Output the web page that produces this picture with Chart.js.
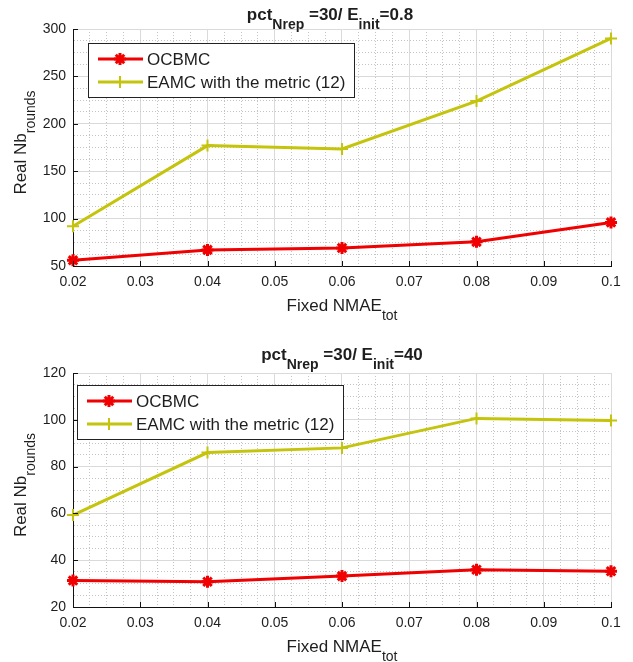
<!DOCTYPE html>
<html>
<head>
<meta charset="utf-8">
<script src="https://cdn.jsdelivr.net/npm/chart.js@4.4.1/dist/chart.umd.min.js"></script>
<style>
  html, body { margin: 0; padding: 0; background: #fff; }
  #quadro { position: relative; width: 633px; height: 662px; }
  .painel { position: absolute; left: 0; width: 633px; height: 331px; }
  .painel canvas { display: block; }
</style>
</head>
<body>
<div id="quadro">
  <div class="painel" style="top:0"><canvas id="grafico1" width="633" height="331"></canvas></div>
  <div class="painel" style="top:331px"><canvas id="grafico2" width="633" height="331"></canvas></div>
</div>
<script>
// valores
const nmaeFixo = [0.02, 0.04, 0.06, 0.08, 0.1]
const ocbmcE08 = [56, 67, 69, 75.5, 96]
const eamcE08 = [92, 177, 173.5, 224, 290]
const ocbmcE40 = [31.3, 30.8, 33.2, 35.9, 35.3]
const eamcE40 = [59.3, 86, 88, 100.6, 99.7]
const nomesSeries = ['OCBMC', 'EAMC with the metric (12)']

const fonteBase = '"Liberation Sans", Arial, sans-serif'
const corTexto = '#1e1e1e'

Chart.defaults.font.family = fonteBase
Chart.defaults.color = corTexto

/*
* Texto com subscritos (titulo e rotulos dos eixos)
*/
const textoComIndice = (ctx, partes, cx, cy, tamanho, negrito, rotacao, desce) => {
    const peso = negrito ? 'bold ' : ''
    const tamSub = Math.round(tamanho * 0.8)
    let largura = 0
    partes.forEach(p => {
        ctx.font = peso + (p.sub ? tamSub : tamanho) + 'px ' + fonteBase
        p.w = ctx.measureText(p.t).width
        largura += p.w
    })
    ctx.save()
    ctx.translate(cx, cy)
    if (rotacao) ctx.rotate(rotacao)
    ctx.fillStyle = corTexto
    ctx.textBaseline = 'middle'
    ctx.textAlign = 'left'
    let x = -largura / 2
    partes.forEach(p => {
        ctx.font = peso + (p.sub ? tamSub : tamanho) + 'px ' + fonteBase
        ctx.fillText(p.t, x, p.sub ? desce : 0)
        x += p.w
    })
    ctx.restore()
}

const rotulos = {
    id: 'rotulos',
    afterDraw(chart, args, opts) {
        const { ctx, chartArea } = chart
        const meio = (chartArea.left + chartArea.right) / 2
        textoComIndice(ctx, opts.titulo, meio + opts.tituloDx, opts.tituloY, 17, true, 0, 10)
        textoComIndice(ctx, opts.eixoX, meio, chartArea.bottom + 40, 17, false, 0, 10)
        textoComIndice(ctx, opts.eixoY, 21, (chartArea.top + chartArea.bottom) / 2 - 5, 17, false, -Math.PI / 2, 10)
    }
}

/*
* Marcas dos ticks para dentro, como no MATLAB
*/
const marcasInternas = {
    id: 'marcasInternas',
    afterDraw(chart) {
        const { ctx, chartArea, scales } = chart
        ctx.save()
        ctx.strokeStyle = '#111'
        ctx.lineWidth = 1
        ctx.beginPath()
        scales.x.ticks.forEach(t => {
            if (t.label === '') return
            const px = Math.round(scales.x.getPixelForValue(t.value)) + 0.5
            ctx.moveTo(px, chartArea.bottom)
            ctx.lineTo(px, chartArea.bottom - 5)
        })
        scales.y.ticks.forEach(t => {
            if (t.label === '') return
            const py = Math.round(scales.y.getPixelForValue(t.value)) + 0.5
            ctx.moveTo(chartArea.left, py)
            ctx.lineTo(chartArea.left + 5, py)
        })
        ctx.stroke()
        ctx.restore()
    }
}

/*
* Legenda dentro da area do grafico, com linha + marcador
*/
const legendaInterna = {
    id: 'legendaInterna',
    afterDraw(chart, args, opts) {
        const { ctx, chartArea } = chart
        const x0 = Math.round(chartArea.left + opts.dx)
        const y0 = Math.round(chartArea.top + opts.dy)
        ctx.save()
        ctx.font = '17px ' + fonteBase
        const larguras = chart.data.datasets.map(d => ctx.measureText(d.label).width)
        const w = Math.round(60 + Math.max(...larguras) + 8)
        const h = 54
        ctx.fillStyle = '#fff'
        ctx.fillRect(x0, y0, w, h)
        ctx.strokeStyle = '#222'
        ctx.lineWidth = 1
        ctx.strokeRect(x0 + 0.5, y0 + 0.5, w, h)
        chart.data.datasets.forEach((d, i) => {
            const yl = y0 + 16 + i * 23
            ctx.strokeStyle = d.borderColor
            ctx.lineWidth = d.borderWidth
            ctx.beginPath()
            ctx.moveTo(x0 + 10, yl)
            ctx.lineTo(x0 + 55, yl)
            ctx.stroke()
            ctx.fillStyle = d.pointBackgroundColor
            ctx.strokeStyle = d.pointBorderColor
            ctx.lineWidth = d.pointBorderWidth
            Chart.helpers.drawPoint(ctx, { pointStyle: d.pointStyle, radius: d.pointRadius, borderWidth: d.pointBorderWidth, rotation: 0 }, x0 + 32, yl)
            ctx.fillStyle = corTexto
            ctx.textBaseline = 'middle'
            ctx.textAlign = 'left'
            ctx.fillText(d.label, x0 + 59, yl + 1)
        })
        ctx.restore()
    }
}

const corVermelha = '#f00000'
const corAmarela = '#c4c40c'
const corGrade = '#dadada'
const corGradeMenor = '#c4c4c4'

const montaPontos = (valores) => nmaeFixo.map((x, i) => ({ x: x, y: valores[i] }))

const criarGrafico = (idCanvas, ocbmc, eamc, eixo, ajuste) => {
    const ctx = document.getElementById(idCanvas).getContext('2d')
    return new Chart(ctx, {
        type: 'line',
        data: {
            datasets: [{
                label: nomesSeries[0],
                data: montaPontos(ocbmc),
                borderColor: corVermelha,
                borderWidth: 3,
                pointStyle: 'star',
                pointRadius: 6,
                pointBorderWidth: 3,
                pointBackgroundColor: corVermelha,
                pointBorderColor: corVermelha,
                tension: 0,
                clip: false
            }, {
                label: nomesSeries[1],
                data: montaPontos(eamc),
                borderColor: corAmarela,
                borderWidth: 3,
                pointStyle: 'cross',
                pointRadius: 6,
                pointBorderWidth: 2,
                pointBackgroundColor: corAmarela,
                pointBorderColor: corAmarela,
                tension: 0,
                clip: false
            }]
        },
        options: {
            responsive: false,
            animation: false,
            layout: { padding: { top: ajuste.topo, right: 22, left: 0, bottom: 0 } },
            scales: {
                x: {
                    type: 'linear',
                    min: 0.02,
                    max: 0.1,
                    afterFit: s => { s.height = ajuste.alturaX },
                    ticks: {
                        stepSize: 0.0025,
                        autoSkip: false,
                        maxRotation: 0,
                        padding: 8,
                        font: { size: 14 },
                        color: corTexto,
                        callback: v => (Math.abs(v * 100 - Math.round(v * 100)) < 1e-6 ? String(+v.toFixed(2)) : '')
                    },
                    grid: {
                        drawTicks: false,
                        lineWidth: 1,
                        color: c => (c.tick && c.tick.label !== '' ? corGrade : corGradeMenor)
                    },
                    border: {
                        color: '#111',
                        width: 1,
                        dash: c => (c.type === 'tick' && c.tick.label === '' ? [1, 2] : [])
                    }
                },
                y: {
                    type: 'linear',
                    min: eixo.min,
                    max: eixo.max,
                    afterFit: s => { s.width = 73 },
                    ticks: {
                        stepSize: eixo.passo,
                        autoSkip: false,
                        padding: 7,
                        font: { size: 14 },
                        color: corTexto,
                        callback: v => (Math.abs(v / eixo.principal - Math.round(v / eixo.principal)) < 1e-6 ? String(Math.round(v)) : '')
                    },
                    grid: {
                        drawTicks: false,
                        lineWidth: 1,
                        color: c => (c.tick && c.tick.label !== '' ? corGrade : corGradeMenor)
                    },
                    border: {
                        color: '#111',
                        width: 1,
                        dash: c => (c.type === 'tick' && c.tick.label === '' ? [1, 2] : [])
                    }
                }
            },
            plugins: {
                legend: { display: false },
                title: { display: false },
                tooltip: { enabled: false },
                legendaInterna: ajuste.legenda,
                rotulos: {
                    titulo: ajuste.titulo,
                    tituloDx: ajuste.tituloDx,
                    tituloY: ajuste.tituloY,
                    eixoX: [{ t: 'Fixed NMAE' }, { t: 'tot', sub: true }],
                    eixoY: [{ t: 'Real Nb' }, { t: 'rounds', sub: true }]
                }
            }
        },
        plugins: [legendaInterna, rotulos, marcasInternas]
    })
}

criarGrafico('grafico1', ocbmcE08, eamcE08, { min: 50, max: 300, passo: 12.5, principal: 50 }, {
    topo: 29,
    alturaX: 65,
    legenda: { dx: 15, dy: 14 },
    titulo: [{ t: 'pct' }, { t: 'Nrep', sub: true }, { t: ' =30/ E' }, { t: 'init', sub: true }, { t: '=0.8' }],
    tituloDx: -12,
    tituloY: 15
})

criarGrafico('grafico2', ocbmcE40, eamcE40, { min: 20, max: 120, passo: 5, principal: 20 }, {
    topo: 42,
    alturaX: 55,
    legenda: { dx: 4, dy: 12 },
    titulo: [{ t: 'pct' }, { t: 'Nrep', sub: true }, { t: ' =30/ E' }, { t: 'init', sub: true }, { t: '=40' }],
    tituloDx: 0,
    tituloY: 24
})
</script>
</body>
</html>
